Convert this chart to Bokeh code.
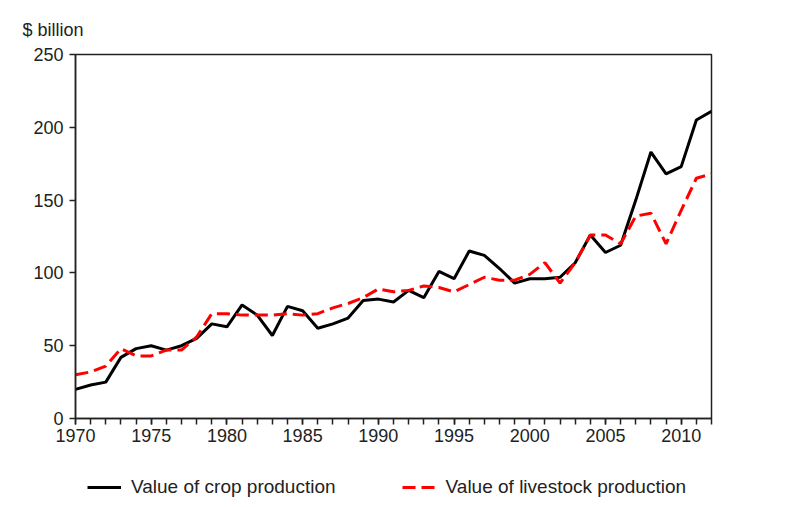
from bokeh.plotting import figure
from bokeh.layouts import column
from bokeh.models import Range1d, Legend, LegendItem, FixedTicker
from bokeh.embed import file_html
from bokeh.resources import INLINE

years = list(range(1970, 2013))
crop = [20, 23, 25, 42, 48, 50, 47, 50, 55, 65, 63, 78, 71, 57, 77, 74,
        62, 65, 69, 81, 82, 80, 88, 83, 101, 96, 115, 112, 103, 93,
        96, 96, 97, 107, 126, 114, 119, 150, 183, 168, 173, 205, 211]
livestock = [30, 32, 36, 48, 43, 43, 47, 47, 56, 72, 72, 71, 71, 71, 72, 71,
             72, 76, 79, 83, 89, 87, 88, 91, 90, 87, 92, 97, 95, 95,
             99, 107, 93, 107, 126, 126, 120, 139, 141, 120, 143, 165, 168]
y_ticks = [0, 50, 100, 150, 200, 250]
x_ticks = [1970, 1975, 1980, 1985, 1990, 1995, 2000, 2005, 2010]
y_label = "$ billion"
crop_name = "Value of crop production"
livestock_name = "Value of livestock production"

FONT = "Liberation Sans"
FS = "18px"
TXT = "#222222"
DASH = "13 6"

p = figure(width=793, height=465, output_backend="svg", toolbar_location=None,
           x_range=Range1d(1970, 2012), y_range=Range1d(0, 250),
           min_border_left=75, min_border_right=82, min_border_top=54,
           min_border_bottom=47, title=y_label)
p.border_fill_color = "white"
p.background_fill_color = "white"
p.outline_line_color = TXT
p.outline_line_width = 1.5
p.grid.visible = False

p.title.align = "left"
p.title.offset = -53
p.title.text_font = FONT
p.title.text_font_size = FS
p.title.text_font_style = "normal"
p.title.text_color = TXT
p.title.standoff = 30

p.line(years, crop, line_color="black", line_width=3)
p.line(years, livestock, line_color="#ff0000", line_width=3, line_dash=DASH)

for ax in (p.xaxis[0], p.yaxis[0]):
    ax.axis_line_color = TXT
    ax.axis_line_width = 1.5
    ax.major_tick_line_color = TXT
    ax.major_tick_line_width = 1.5
    ax.minor_tick_line_color = TXT
    ax.minor_tick_line_width = 1.5
    ax.major_tick_in = 0
    ax.major_tick_out = 6
    ax.minor_tick_in = 0
    ax.major_label_text_font = FONT
    ax.major_label_text_font_size = FS
    ax.major_label_text_color = TXT

p.xaxis[0].ticker = FixedTicker(ticks=x_ticks, minor_ticks=years)
p.xaxis[0].minor_tick_out = 6
p.xaxis[0].major_label_standoff = 4
p.yaxis[0].ticker = FixedTicker(ticks=y_ticks)
p.yaxis[0].minor_tick_out = 0
p.yaxis[0].major_label_standoff = 6

# legend strip below the chart (series drawn off-range, only the legend shows)
q = figure(width=793, height=42, output_backend="svg", toolbar_location=None,
           x_range=Range1d(0, 1), y_range=Range1d(0, 1),
           min_border_left=0, min_border_right=0, min_border_top=0,
           min_border_bottom=0, x_axis_location=None, y_axis_location=None)
q.outline_line_color = None
q.grid.visible = False
q.border_fill_color = "white"
q.background_fill_color = "white"
g1 = q.line(years, crop, line_color="black", line_width=3)
g2 = q.line(years, livestock, line_color="#ff0000", line_width=3, line_dash=DASH)

legend = Legend(items=[LegendItem(label=crop_name, renderers=[g1]),
                       LegendItem(label=livestock_name, renderers=[g2])],
                orientation="horizontal", location=(12, 9),
                glyph_width=34, label_standoff=10, spacing=66,
                label_text_font=FONT, label_text_font_size="19px",
                label_text_color=TXT, border_line_color=None,
                background_fill_alpha=0, padding=4, margin=0)
q.add_layout(legend)

layout = column(p, q, spacing=0)
open("out.html", "w").write(file_html(layout, INLINE))
